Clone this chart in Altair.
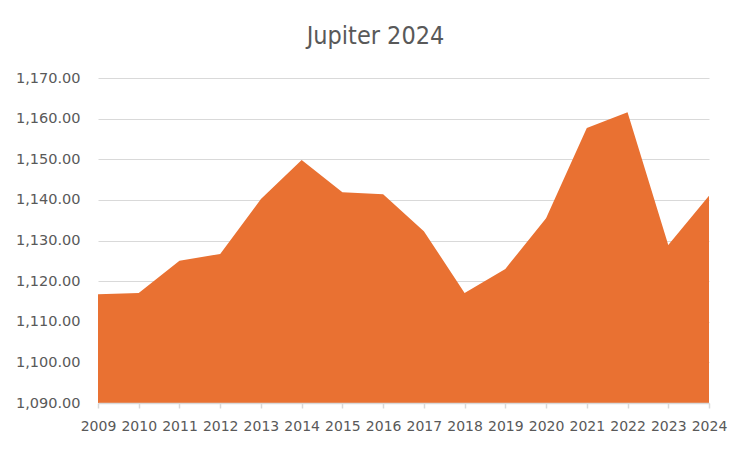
import altair as alt
import pandas as pd

years = list(range(2009, 2025))
values = [1116.8, 1117.1, 1125.0, 1126.7, 1140.2, 1149.8, 1141.9, 1141.4,
          1132.3, 1117.1, 1123.0, 1135.5, 1157.7, 1161.6, 1128.9, 1141.0]

df = pd.DataFrame({"year": years, "value": values})

chart = alt.Chart(df).mark_area(color="#E97132", opacity=1, clip=True).encode(
    x=alt.X("year:Q", scale=alt.Scale(domain=[2009, 2024], nice=False),
            axis=alt.Axis(values=years, format="d", title=None, grid=False,
                          domainColor="#d9d9d9", domainWidth=1.5, tickColor="#d9d9d9",
                          tickSize=5, tickWidth=1.5, zindex=1, labelFlush=False,
                          labelColor="#595959", labelFontSize=14, labelFont="DejaVu Sans",
                          labelPadding=11, labelOverlap=False)),
    y=alt.Y("value:Q", scale=alt.Scale(domain=[1090, 1170], nice=False, zero=False),
            axis=alt.Axis(values=list(range(1090, 1171, 10)), format=",.2f", title=None,
                          domain=False, ticks=False, gridColor="#d9d9d9", gridWidth=1.2,
                          labelColor="#595959", labelFontSize=14.5, labelFont="DejaVu Sans",
                          labelPadding=18)),
    y2=alt.datum(1090),
).properties(
    width=611, height=325,
    title=alt.TitleParams("Jupiter 2024", fontSize=25, font="DejaVu Sans Condensed",
                          fontWeight="normal", color="#595959", anchor="middle", offset=21,
                          dx=-28),
    autosize=alt.AutoSizeParams(type="none"),
    padding={"left": 90, "top": 70, "right": 35, "bottom": 41},
).configure_view(stroke=None)

chart.save("out.html", embed_options={"renderer": "svg", "actions": False})
